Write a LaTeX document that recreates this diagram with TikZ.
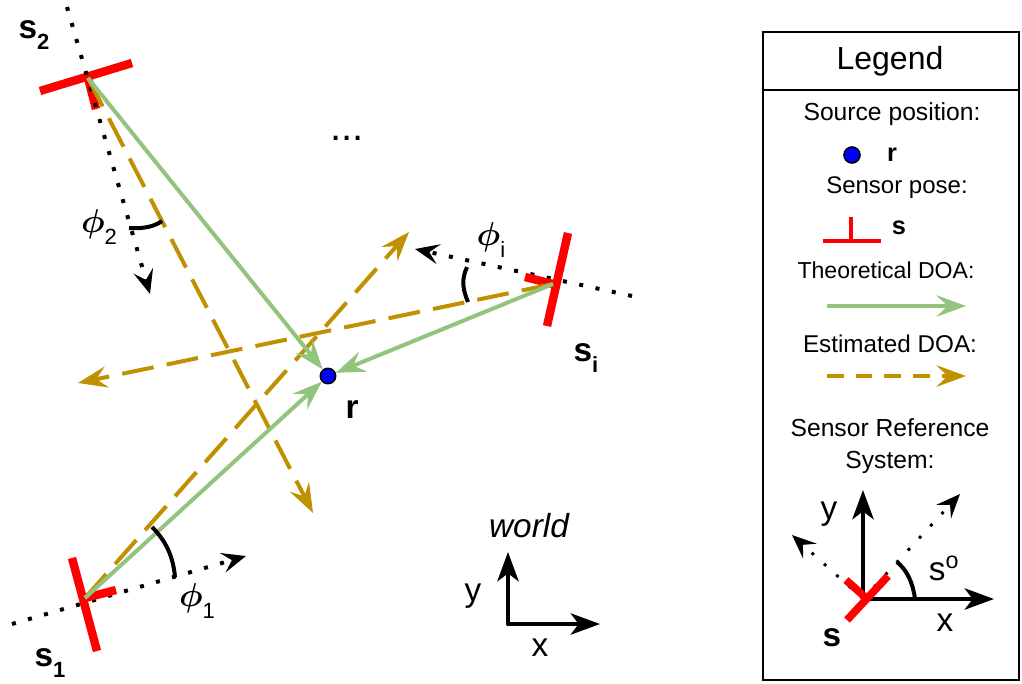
\documentclass[tikz,border=0pt]{standalone}
\usepackage{fontspec}
\setmainfont{Liberation Sans}
\usetikzlibrary{arrows.meta}
\definecolor{doagreen}{HTML}{93C47D}
\definecolor{doagold}{HTML}{BF9000}
\newcommand{\lowsub}[1]{\raisebox{-8.5pt}{\fontsize{16.5}{20}\selectfont #1}}
\newcommand{\phisym}{{\boldmath$\phi$}}
\tikzset{
    sensorbar/.style={draw=red, line width=6.3pt},
    theorydoa/.style={draw=doagreen, line width=3pt, -{Stealth[length=22pt,width=16pt,inset=8pt]}},
    estimdoa/.style={draw=doagold, line width=3pt, dash pattern=on 24pt off 10pt, -{Stealth[length=22pt,width=16pt,inset=8pt]}},
    refaxis/.style={draw=black, line width=3pt, dash pattern=on 3pt off 9.5pt, -{Stealth[length=18pt,width=15pt,inset=7pt]}},
    mainaxis/.style={draw=black, line width=3pt, -{Stealth[length=22pt,width=16pt,inset=6pt]}},
    anglearc/.style={draw=black, line width=3pt},
    srcdot/.style={circle, fill=blue, draw=black, line width=1.2pt, inner sep=0pt, minimum size=#1},
    biglabel/.style={font=\fontsize{25}{28}\selectfont, inner sep=0pt},
    boldlabel/.style={font=\fontsize{25}{28}\selectfont\bfseries, inner sep=0pt},
    legendtext/.style={font=\fontsize{18.5}{22}\selectfont, align=center, inner sep=0pt},
    legendbold/.style={font=\fontsize{19}{22}\selectfont\bfseries, inner sep=0pt},
}
\begin{document}
\begin{tikzpicture}[x=0.75pt,y=-0.75pt]
    \useasboundingbox (0,0) rectangle (1022,683);

    % Sensors and the source
    \coordinate (s1) at (85,598);
    \coordinate (s2) at (88,78);
    \coordinate (si) at (553,284);
    \node[srcdot=11.5pt] (r) at (328,376) {};

    % Free ends of the dotted axes and of the estimated rays
    \coordinate (s1back) at (12,624);
    \coordinate (s1tip) at (246,556);
    \coordinate (s2back) at (67,7);
    \coordinate (s2tip) at (150,294);
    \coordinate (siback) at (632,296);
    \coordinate (sitip) at (415,249);
    \coordinate (est1) at (409,232);
    \coordinate (est2) at (313,513);
    \coordinate (esti) at (78,383);

    % Draw the sensor bars, s2 below its dots
    \draw[sensorbar] (40,91) -- (132,63);
    \draw[sensorbar] (s2) -- (96,109);

    % Draw the dotted sensor axes
    \draw[refaxis] (s1back) -- (s1tip);
    \draw[refaxis] (s2back) -- (s2tip);
    \draw[refaxis] (siback) -- (sitip);

    % Draw the other sensor bars
    \draw[sensorbar] (72,558) -- (97,651);
    \draw[sensorbar] (s1) -- (116,590);
    \draw[sensorbar] (568,233) -- (547,326);
    \draw[sensorbar] (si) -- (525,277);

    % Draw the estimated and theoretical rays
    \draw[estimdoa] (s1) -- (est1);
    \draw[estimdoa] (s2) -- (est2);
    \draw[estimdoa] (si) -- (esti);
    \draw[theorydoa] (s1) -- (r);
    \draw[theorydoa] (s2) -- (r);
    \draw[theorydoa] (si) -- (r);

    % Angles
    \draw[anglearc] (129,228) .. controls (145,229) and (155,226) .. (162,221);
    \draw[anglearc] (152,527) .. controls (165,540) and (173,555) .. (175,577);
    \draw[anglearc] (467,267) .. controls (461,280) and (463,290) .. (468,302);

    \node[biglabel] (phi1) at (197,601) {\phisym\lowsub{1}};
    \node[biglabel] (phi2) at (99,227) {\phisym\lowsub{2}};
    \node[biglabel] (phii) at (491,240) {\phisym\lowsub{i}};

    \node[boldlabel] (s1label) at (50,663) {s\lowsub{\bfseries 1}};
    \node[boldlabel] (s2label) at (34,35) {s\lowsub{\bfseries 2}};
    \node[boldlabel] (silabel) at (586,358) {s\lowsub{\bfseries i}};
    \node[boldlabel] (rlabel) at (352,410) {r};
    \node[biglabel, font=\fontsize{30}{30}\selectfont] (dots) at (347,138) {...};

    % World frame
    \coordinate (wo) at (508,624);
    \coordinate (wy) at (508,552);
    \coordinate (wx) at (600,624);
    \draw[mainaxis, line cap=round] (wo) -- (wy);
    \draw[mainaxis, line cap=round] (wo) -- (wx);
    \node[biglabel, font=\fontsize{25}{28}\selectfont\itshape] (world) at (529,526) {world};
    \node[biglabel] (wylabel) at (473,596) {y};
    \node[biglabel] (wxlabel) at (540,648) {x};

    % Draw the legend
    \draw[draw=black, line width=1.3pt] (763,32) rectangle (1019,680);
    \draw[draw=black, line width=1.3pt] (763,90) -- (1019,90);
    \node[legendtext, font=\fontsize{24}{28}\selectfont] (legend) at (890,61) {Legend};

    \node[legendtext] (srctext) at (892,114) {Source position:};
    \node[srcdot=12pt] (legdot) at (852,155) {};
    \node[legendbold] (legr) at (892,155) {r};

    \node[legendtext, font=\fontsize{18}{22}\selectfont] (posetext) at (897,188) {Sensor pose:};
    \draw[draw=red, line width=3pt] (823,241) -- (881,241);
    \draw[draw=red, line width=3pt] (851,241) -- (851,217);
    \node[legendbold] (legs) at (899,228) {s};

    \node[legendtext, font=\fontsize{17.3}{22}\selectfont] (theotext) at (886,270) {Theoretical DOA:};
    \coordinate (theoa) at (827,306);
    \coordinate (theob) at (966,306);
    \draw[theorydoa] (theoa) -- (theob);

    \node[legendtext, font=\fontsize{18.2}{22}\selectfont] (esttext) at (890,344) {Estimated DOA:};
    \coordinate (esta) at (827,376);
    \coordinate (estb) at (966,376);
    \draw[estimdoa, dash pattern=on 12.5pt off 9pt] (esta) -- (estb);

    \node[legendtext] (reftext) at (890,446) {Sensor Reference\\[2pt]System:};

    % Sensor reference system
    \coordinate (lo) at (863,599);
    \coordinate (lx) at (994,599);
    \coordinate (ly) at (863,490);
    \coordinate (ldot1) at (960,494);
    \coordinate (ldot2) at (792,535);
    \draw[refaxis, line width=2.2pt, dash pattern=on 2.2pt off 10.2pt] (lo) -- (ldot1);
    \draw[refaxis, line width=2.2pt, dash pattern=on 2.2pt off 10.2pt] (lo) -- (ldot2);
    \draw[mainaxis] (lo) -- (lx);
    \draw[mainaxis] (lo) -- (ly);
    \draw[anglearc] (897,562) .. controls (907,570) and (913,583) .. (915,599);
    \draw[sensorbar, line width=5.8pt] (847,620) -- (888,576);
    \draw[sensorbar, line width=5.8pt] (865,597) -- (846,580);
    \node[biglabel] (lylabel) at (829,514) {y};
    \node[biglabel] (lxlabel) at (945,623) {x};
    \node[boldlabel] (lslabel) at (832,638) {s};
    \node[biglabel] (lslabelo) at (944,568) {s\textsuperscript{o}};
\end{tikzpicture}
\end{document}
